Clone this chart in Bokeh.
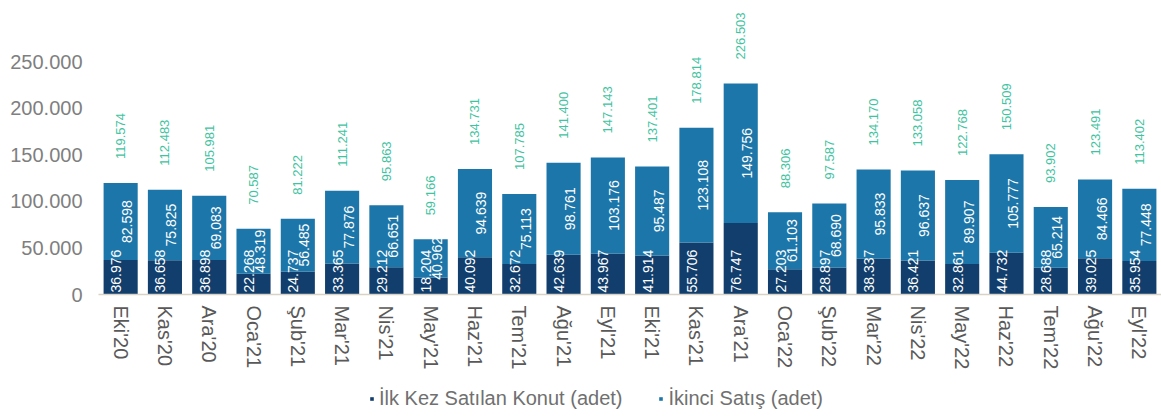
import math
from bokeh.plotting import figure
from bokeh.layouts import column
from bokeh.models import (ColumnDataSource, FactorRange, Range1d, FixedTicker,
                          Legend, LegendItem)
from bokeh.core.properties import value
from bokeh.embed import file_html
from bokeh.resources import INLINE

months = ["Eki'20", "Kas'20", "Ara'20", "Oca'21", "Şub'21", "Mar'21", "Nis'21",
          "May'21", "Haz'21", "Tem'21", "Ağu'21", "Eyl'21", "Eki'21", "Kas'21",
          "Ara'21", "Oca'22", "Şub'22", "Mar'22", "Nis'22", "May'22", "Haz'22",
          "Tem'22", "Ağu'22", "Eyl'22"]
ilk_kez = [36976, 36658, 36898, 22268, 24737, 33365, 29212, 18204, 40092, 32672,
           42639, 43967, 41914, 55706, 76747, 27203, 28897, 38337, 36421, 32861,
           44732, 28688, 39025, 35954]
ikinci = [82598, 75825, 69083, 48319, 56485, 77876, 66651, 40962, 94639, 75113,
          98761, 103176, 95487, 123108, 149756, 61103, 68690, 95833, 96637, 89907,
          105777, 65214, 84466, 77448]
toplam = [119574, 112483, 105981, 70587, 81222, 111241, 95863, 59166, 134731,
          107785, 141400, 147143, 137401, 178814, 226503, 88306, 97587, 134170,
          133058, 122768, 150509, 93902, 123491, 113402]
y_ticks = [0, 50000, 100000, 150000, 200000, 250000]
series_names = ["İlk Kez Satılan Konut (adet)", "İkinci Satış (adet)"]


def tr(n):
    return f"{n:,}".replace(",", ".")


DARK = "#113e6c"
LIGHT = "#1d76a9"
TEAL = "#3fc3a0"
FONT = "Liberation Sans"

src = ColumnDataSource(dict(
    month=months,
    ilk=ilk_kez,
    ikinci=ikinci,
    total=toplam,
    mid2=[a + b / 2 for a, b in zip(ilk_kez, ikinci)],
    zero=[0] * len(months),
    ilk_lbl=[tr(v) for v in ilk_kez],
    ikinci_lbl=[tr(v) for v in ikinci],
    total_lbl=[tr(v) for v in toplam],
))

p = figure(x_range=FactorRange(factors=months), y_range=Range1d(0, 306900),
           frame_width=1063, frame_height=286,
           output_backend="svg", toolbar_location=None,
           min_border_left=98, min_border_right=0, min_border_top=8,
           min_border_bottom=90)

rs = p.vbar_stack(["ilk", "ikinci"], x="month", width=0.77,
                  color=[DARK, LIGHT], line_color=None, source=src)

p.text(x="month", y="zero", text="ilk_lbl", angle=math.pi / 2,
       text_align="left", text_baseline="middle", x_offset=-4.5, y_offset=-2,
       text_color="white", text_font_size="14px", text_font=value(FONT),
       source=src)
p.text(x="month", y="mid2", text="ikinci_lbl", angle=math.pi / 2,
       text_align="center", text_baseline="middle", x_offset=6.5, y_offset=0,
       text_color="white", text_font_size="14px", text_font=value(FONT),
       source=src)
p.text(x="month", y="total", text="total_lbl", angle=math.pi / 2,
       text_align="left", text_baseline="middle", x_offset=0, y_offset=-24,
       text_color=TEAL, text_font_size="13px", text_font=value(FONT),
       source=src)

p.xgrid.visible = False
p.ygrid.visible = False
p.outline_line_color = None
p.background_fill_color = "white"
p.border_fill_color = "white"

ya = p.yaxis[0]
ya.ticker = FixedTicker(ticks=y_ticks)
ya.major_label_overrides = {t: tr(t) for t in y_ticks}
ya.axis_line_color = None
ya.major_tick_line_color = None
ya.minor_tick_line_color = None
ya.major_label_standoff = 10
ya.major_label_text_font_size = "20px"
ya.major_label_text_color = "#7f7f7f"
ya.major_label_text_font = FONT

xa = p.xaxis[0]
xa.axis_line_color = "#d9d2c6"
xa.axis_line_width = 1.5
xa.major_tick_line_color = None
xa.minor_tick_line_color = None
xa.major_tick_out = 0
xa.major_tick_in = 0
xa.major_label_orientation = "vertical"
xa.major_label_standoff = 11
xa.major_label_text_font_size = "20px"
xa.major_label_text_color = "#595959"
xa.major_label_text_font = FONT

# Legend strip below the chart (its frame is aligned with the chart's frame)
lf = figure(width=1161, height=30, output_backend="svg", toolbar_location=None,
            x_axis_location=None, y_axis_location=None, min_border=0,
            x_range=Range1d(0, 1), y_range=Range1d(0, 1))
lf.outline_line_color = None
lf.xgrid.visible = False
lf.ygrid.visible = False
hidden = ColumnDataSource(dict(x=[-10], y=[-10]))
lr0 = lf.scatter(x="x", y="y", marker="square", size=9, color=DARK,
                 line_color=None, source=hidden)
lr1 = lf.scatter(x="x", y="y", marker="square", size=9, color=LIGHT,
                 line_color=None, source=hidden)

legend = Legend(items=[LegendItem(label=series_names[0], renderers=[lr0]),
                       LegendItem(label=series_names[1], renderers=[lr1])],
                orientation="horizontal", location=(269, 4),
                label_text_font_size="20px", label_text_color="#707070",
                label_text_font=FONT,
                glyph_width=9, glyph_height=9, label_standoff=3, spacing=34,
                padding=0, margin=0, border_line_color=None,
                background_fill_alpha=0)
lf.add_layout(legend)

open("out.html", "w").write(file_html(column(p, lf, spacing=0), INLINE))
